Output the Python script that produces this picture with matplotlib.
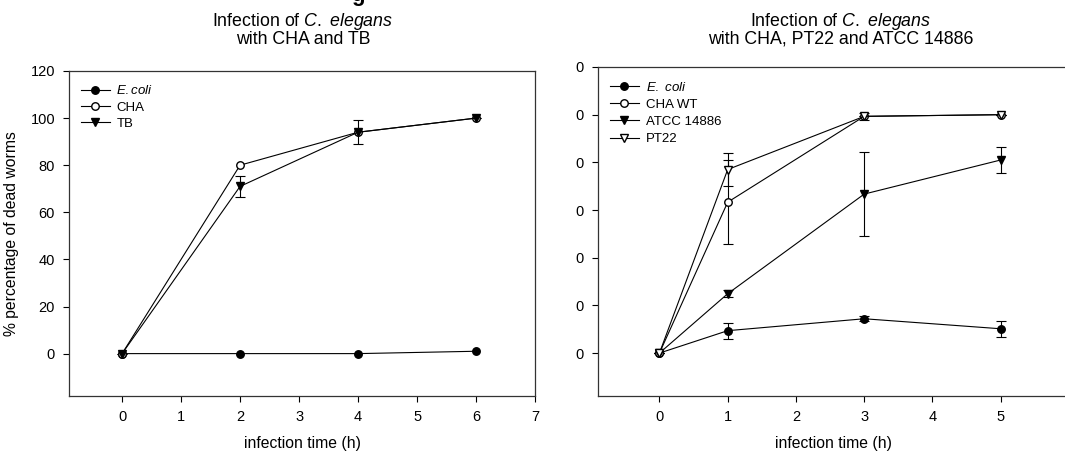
import matplotlib
matplotlib.use('Agg')
import matplotlib.pyplot as plt

plt.rcParams['font.family'] = ['Liberation Sans', 'DejaVu Sans']
plt.rcParams['mathtext.fontset'] = 'custom'
plt.rcParams['mathtext.rm'] = 'Liberation Sans'
plt.rcParams['mathtext.it'] = 'Liberation Sans:italic'

# left panel: CHA and TB
t_left = [0, 2, 4, 6]
ecoli_left = [0, 0, 0, 1]
cha_left = [0, 80, 94, 100]
tb_left = [0, 71, 94, 100]
tb_left_err = [0, 4.6, 5, 0]

# right panel: CHA WT, ATCC 14886, PT22
t_right = [0, 1, 3, 5]
ecoli_right = [0, 9.4, 14.4, 10.2]
ecoli_right_err = [0, 3.4, 1.0, 3.4]
chawt_right = [0, 63.3, 99.3, 100]
chawt_right_err = [0, 17.6, 1.5, 0]
atcc_right = [0, 24.9, 66.7, 81]
atcc_right_err = [0, 1.5, 17.6, 5.4]
pt22_right = [0, 77, 99.3, 100]
pt22_right_err = [0, 7, 0, 0]

yticks = [0, 20, 40, 60, 80, 100, 120]
right_ytick_labels = ['0'] * 7

fig = plt.figure(figsize=(10.65, 4.53), dpi=100)
W, H = 1065, 453

ax1 = fig.add_axes([69 / W, 57 / H, 466 / W, 325 / H])
ax2 = fig.add_axes([598 / W, 57 / H, 471 / W, 329 / H])

lw = 0.8
ms = 5.4
eb = dict(color='black', lw=lw, capsize=3.5, elinewidth=lw, capthick=lw)

c = []
c.append(ax1.errorbar(t_left, ecoli_left, marker='o', ms=ms, mfc='black', mec='black', **eb))
c.append(ax1.errorbar(t_left, cha_left, marker='o', ms=ms, mfc='white', mec='black', **eb))
c.append(ax1.errorbar(t_left, tb_left, yerr=tb_left_err, marker='v', ms=ms, mfc='black', mec='black', **eb))
left_labels = ['$\\it{E.coli}$', 'CHA', 'TB']

d = []
d.append(ax2.errorbar(t_right, ecoli_right, yerr=ecoli_right_err, marker='o', ms=ms, mfc='black', mec='black', **eb))
d.append(ax2.errorbar(t_right, chawt_right, yerr=chawt_right_err, marker='o', ms=ms, mfc='white', mec='black', **eb))
d.append(ax2.errorbar(t_right, atcc_right, yerr=atcc_right_err, marker='v', ms=ms, mfc='black', mec='black', **eb))
d.append(ax2.errorbar(t_right, pt22_right, yerr=pt22_right_err, marker='v', ms=ms, mfc='white', mec='black', **eb))
right_labels = ['$\\it{E.\\ coli}$', 'CHA WT', 'ATCC 14886', 'PT22']

ax1.set_xlim(-0.9, 7)
ax1.set_xticks(range(0, 8))
ax2.set_xlim(-0.9, 6)
ax2.set_xticks(range(0, 6))

for ax, conts, labels, sp in ((ax1, c, left_labels, 0.3), (ax2, d, right_labels, 0.38)):
    ax.set_ylim(-18, 120)
    ax.set_yticks(yticks)
    ax.tick_params(direction='out', length=4, width=0.8, labelsize=10.5, pad=6)
    for s in ax.spines.values():
        s.set_linewidth(0.9)
        s.set_color('#333333')
    ax.set_xlabel('infection time (h)', fontsize=11.3, labelpad=9)
    ax.legend([k[0] for k in conts], labels, loc='upper left', frameon=False,
              fontsize=9.5, handlelength=2.2, handletextpad=0.5,
              labelspacing=sp, borderaxespad=0.5, bbox_to_anchor=(0.0, 0.995))

ax2.set_yticklabels(right_ytick_labels)
ax1.set_ylabel('% percentage of dead worms', fontsize=11.3, labelpad=8)

fig.text(303 / W, 1 - 21 / H, 'Infection of $\\it{C.\\ elegans}$', ha='center', va='center', fontsize=12.8)
fig.text(303 / W, 1 - 39.5 / H, 'with CHA and TB', ha='center', va='center', fontsize=12.8)
fig.text(841 / W, 1 - 21 / H, 'Infection of $\\it{C.\\ elegans}$', ha='center', va='center', fontsize=12.8)
fig.text(841 / W, 1 - 39.5 / H, 'with CHA, PT22 and ATCC 14886', ha='center', va='center', fontsize=12.8)
# top title cut off by the image edge, only the tail of a letter shows
fig.text(358 / W, 1 - 0.5 / H, 'g', ha='center', va='baseline', fontsize=16, fontweight='bold')

fig.savefig('out.png', dpi=100)
